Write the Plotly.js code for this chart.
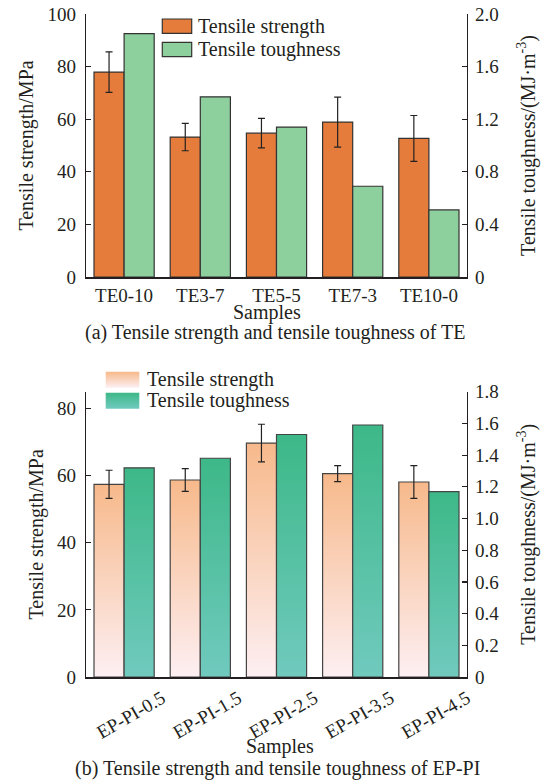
<!DOCTYPE html>
<html><head><meta charset="utf-8">
<script src="https://cdn.plot.ly/plotly-3.0.1.min.js"></script>
<style>html,body{margin:0;padding:0;background:#fff}#chart{width:542px;height:780px}</style>
</head><body>
<svg width="0" height="0" style="position:absolute">
<defs>
<linearGradient id="gradOrange" x1="0" y1="0" x2="0" y2="1">
<stop offset="0" stop-color="#f7b98b"/><stop offset="1" stop-color="#fdeff2"/>
</linearGradient>
<linearGradient id="gradGreen" x1="0" y1="0" x2="0" y2="1">
<stop offset="0" stop-color="#3db888"/><stop offset="1" stop-color="#70cabe"/>
</linearGradient>
</defs></svg>
<div id="chart"></div>
<script>
// ---- data ----
const teSamples = ['TE0-10', 'TE3-7', 'TE5-5', 'TE7-3', 'TE10-0'];
const teStrength = [77.9, 53.2, 54.7, 58.9, 52.7];
const teStrengthErr = [7.7, 5.2, 5.6, 9.5, 8.7];
const teToughness = [1.85, 1.37, 1.14, 0.69, 0.51];

const epSamples = ['EP-PI-0.5', 'EP-PI-1.5', 'EP-PI-2.5', 'EP-PI-3.5', 'EP-PI-4.5'];
const epStrength = [57.4, 58.7, 69.7, 60.6, 58.1];
const epStrengthErr = [4.2, 3.4, 5.6, 2.4, 4.9];
const epToughness = [1.32, 1.38, 1.53, 1.59, 1.17];

const leftTicksA = [0, 20, 40, 60, 80, 100];
const rightTicksA = [0, 0.4, 0.8, 1.2, 1.6, 2.0];
const rightTextA = ['0', '0.4', '0.8', '1.2', '1.6', '2.0'];
const leftTicksB = [0, 20, 40, 60, 80];
const rightTicksB = [0, 0.2, 0.4, 0.6, 0.8, 1.0, 1.2, 1.4, 1.6, 1.8];
const rightTextB = ['0', '0.2', '0.4', '0.6', '0.8', '1.0', '1.2', '1.4', '1.6', '1.8'];

const seriesNames = ['Tensile strength', 'Tensile toughness'];
const captionA = '(a) Tensile strength and tensile toughness of TE';
const captionB = '(b) Tensile strength and tensile toughness of EP-PI';
const xTitle = 'Samples';
const yLeftTitle = 'Tensile strength/MPa';
const yRightTitle = 'Tensile toughness/(MJ·m<sup>-3</sup>)';

// ---- layout helpers ----
const M = {l: 86, r: 75, t: 14, b: 103};
const PW = 542 - M.l - M.r, PH = 780 - M.t - M.b;
const fx = px => (px - M.l) / PW;
const fy = py => (780 - M.b - py) / PH;

const FAM = 'Liberation Serif, Times New Roman, serif';
const INK = '#231f20';
const FONT = {family: FAM, size: 20, color: INK};
const TFONT = {family: FAM, size: 19, color: INK};
const BW = 0.395;

const orange = '#e67c3b', green = '#8ecf9e';
const errStyle = {type: 'data', visible: true, color: '#222', thickness: 1.2, width: 3.5};

const data = [
  {type: 'bar', x: teSamples, y: teStrength, xaxis: 'x', yaxis: 'y', name: seriesNames[0],
   width: BW, offset: -BW, showlegend: false,
   marker: {color: orange, line: {color: '#333', width: 1.2}},
   error_y: Object.assign({array: teStrengthErr}, errStyle)},
  {type: 'bar', x: teSamples, y: teToughness, xaxis: 'x', yaxis: 'y2', name: seriesNames[1],
   width: BW, offset: 0, showlegend: false,
   marker: {color: green, line: {color: '#333', width: 1.2}}},
  {type: 'bar', x: epSamples, y: epStrength, xaxis: 'x2', yaxis: 'y3', name: seriesNames[0],
   width: BW, offset: -BW, showlegend: false,
   marker: {color: '#f9c8a8', line: {color: '#444', width: 1.2}},
   error_y: Object.assign({array: epStrengthErr}, errStyle)},
  {type: 'bar', x: epSamples, y: epToughness, xaxis: 'x2', yaxis: 'y4', name: seriesNames[1],
   width: BW, offset: 0, showlegend: false,
   marker: {color: '#55c1a3', line: {color: '#444', width: 1.2}}}
];

const yBase = {showgrid: false, zeroline: false, showline: true, linecolor: INK, linewidth: 1.2,
  ticks: 'inside', ticklen: 5, tickwidth: 1.2, tickcolor: INK, tickfont: TFONT, ticklabelstandoff: 5};
const xBase = {type: 'category', showgrid: false, zeroline: false, showline: true, linecolor: INK,
  linewidth: 2, ticks: '', tickfont: TFONT, domain: [0, 1]};

const layout = {
  width: 542, height: 780, margin: M, paper_bgcolor: '#fff', plot_bgcolor: 'rgba(0,0,0,0)',
  font: FONT, showlegend: false, barmode: 'overlay',
  xaxis: Object.assign({}, xBase, {anchor: 'y', range: [-0.5, 4.5]}),
  yaxis: Object.assign({}, yBase, {domain: [fy(277), 1], range: [0, 100], tickvals: leftTicksA,
    title: {text: yLeftTitle, font: FONT, standoff: 8}}),
  yaxis2: Object.assign({}, yBase, {overlaying: 'y', side: 'right', anchor: 'x', range: [0, 2.0],
    tickvals: rightTicksA, ticktext: rightTextA, ticklabelstandoff: 3,
    title: {text: yRightTitle, font: FONT, standoff: 22}}),
  xaxis2: Object.assign({}, xBase, {anchor: 'y3', range: [-0.5, 4.5], tickangle: -30,
    ticklabelshift: 38, ticklabelstandoff: 1}),
  yaxis3: Object.assign({}, yBase, {domain: [0, fy(391.7)], anchor: 'x2', range: [0, 85], tickvals: leftTicksB,
    title: {text: yLeftTitle, font: FONT, standoff: 8}}),
  yaxis4: Object.assign({}, yBase, {overlaying: 'y3', side: 'right', anchor: 'x2', range: [0, 1.8],
    tickvals: rightTicksB, ticktext: rightTextB, ticklabelstandoff: 3,
    title: {text: yRightTitle, font: FONT, standoff: 22}}),
  shapes: [
    {type: 'rect', xref: 'paper', yref: 'paper', x0: fx(162.3), x1: fx(191.7), y0: fy(33.3), y1: fy(19),
     fillcolor: orange, line: {color: '#333', width: 1.2}, layer: 'above'},
    {type: 'rect', xref: 'paper', yref: 'paper', x0: fx(162.3), x1: fx(191.7), y0: fy(56.7), y1: fy(42.3),
     fillcolor: green, line: {color: '#333', width: 1.2}, layer: 'above'},
    {type: 'rect', xref: 'paper', yref: 'paper', x0: fx(105.7), x1: fx(139.3), y0: fy(387.7), y1: fy(371.7),
     fillcolor: '#f9c8a8', line: {width: 0}, layer: 'above'},
    {type: 'rect', xref: 'paper', yref: 'paper', x0: fx(105.7), x1: fx(139.3), y0: fy(408.7), y1: fy(392.7),
     fillcolor: '#55c1a3', line: {width: 0}, layer: 'above'}
  ],
  annotations: [
    {text: seriesNames[0], xref: 'paper', yref: 'paper', x: fx(196), y: fy(26), xanchor: 'left', yanchor: 'middle', showarrow: false, font: FONT},
    {text: seriesNames[1], xref: 'paper', yref: 'paper', x: fx(196), y: fy(49.5), xanchor: 'left', yanchor: 'middle', showarrow: false, font: FONT},
    {text: seriesNames[0], xref: 'paper', yref: 'paper', x: fx(145), y: fy(379.7), xanchor: 'left', yanchor: 'middle', showarrow: false, font: FONT},
    {text: seriesNames[1], xref: 'paper', yref: 'paper', x: fx(145), y: fy(400.7), xanchor: 'left', yanchor: 'middle', showarrow: false, font: FONT},
    {text: xTitle, xref: 'paper', yref: 'paper', x: fx(266.5), y: fy(312), xanchor: 'center', yanchor: 'middle', showarrow: false, font: FONT},
    {text: xTitle, xref: 'paper', yref: 'paper', x: fx(280), y: fy(746), xanchor: 'center', yanchor: 'middle', showarrow: false, font: FONT},
    {text: captionA, xref: 'paper', yref: 'paper', x: fx(275.3), y: fy(332), xanchor: 'center', yanchor: 'middle', showarrow: false, font: FONT},
    {text: captionB, xref: 'paper', yref: 'paper', x: fx(277.5), y: fy(768), xanchor: 'center', yanchor: 'middle', showarrow: false, font: FONT}
  ]
};

Plotly.newPlot('chart', data, layout, {staticPlot: true, displayModeBar: false}).then(gd => {
  const setFill = (nodes, id) => nodes.forEach(p => { p.style.fill = 'url(#' + id + ')'; p.style.fillOpacity = 1; });
  gd.querySelectorAll('.barlayer .trace').forEach(g => {
    const cd = g.__data__;
    const idx = cd && cd[0] && cd[0].trace ? cd[0].trace.index : -1;
    if (idx === 2) setFill(g.querySelectorAll('.point path'), 'gradOrange');
    if (idx === 3) setFill(g.querySelectorAll('.point path'), 'gradGreen');
  });
  const shp = (i) => {
    let n = gd.querySelectorAll('.shapelayer path[data-index="' + i + '"]');
    if (!n.length) { const all = gd.querySelectorAll('.layer-above .shapelayer path'); n = all[i] ? [all[i]] : []; }
    return n;
  };
  setFill(shp(2), 'gradOrange');
  setFill(shp(3), 'gradGreen');
});
</script>
</body></html>
